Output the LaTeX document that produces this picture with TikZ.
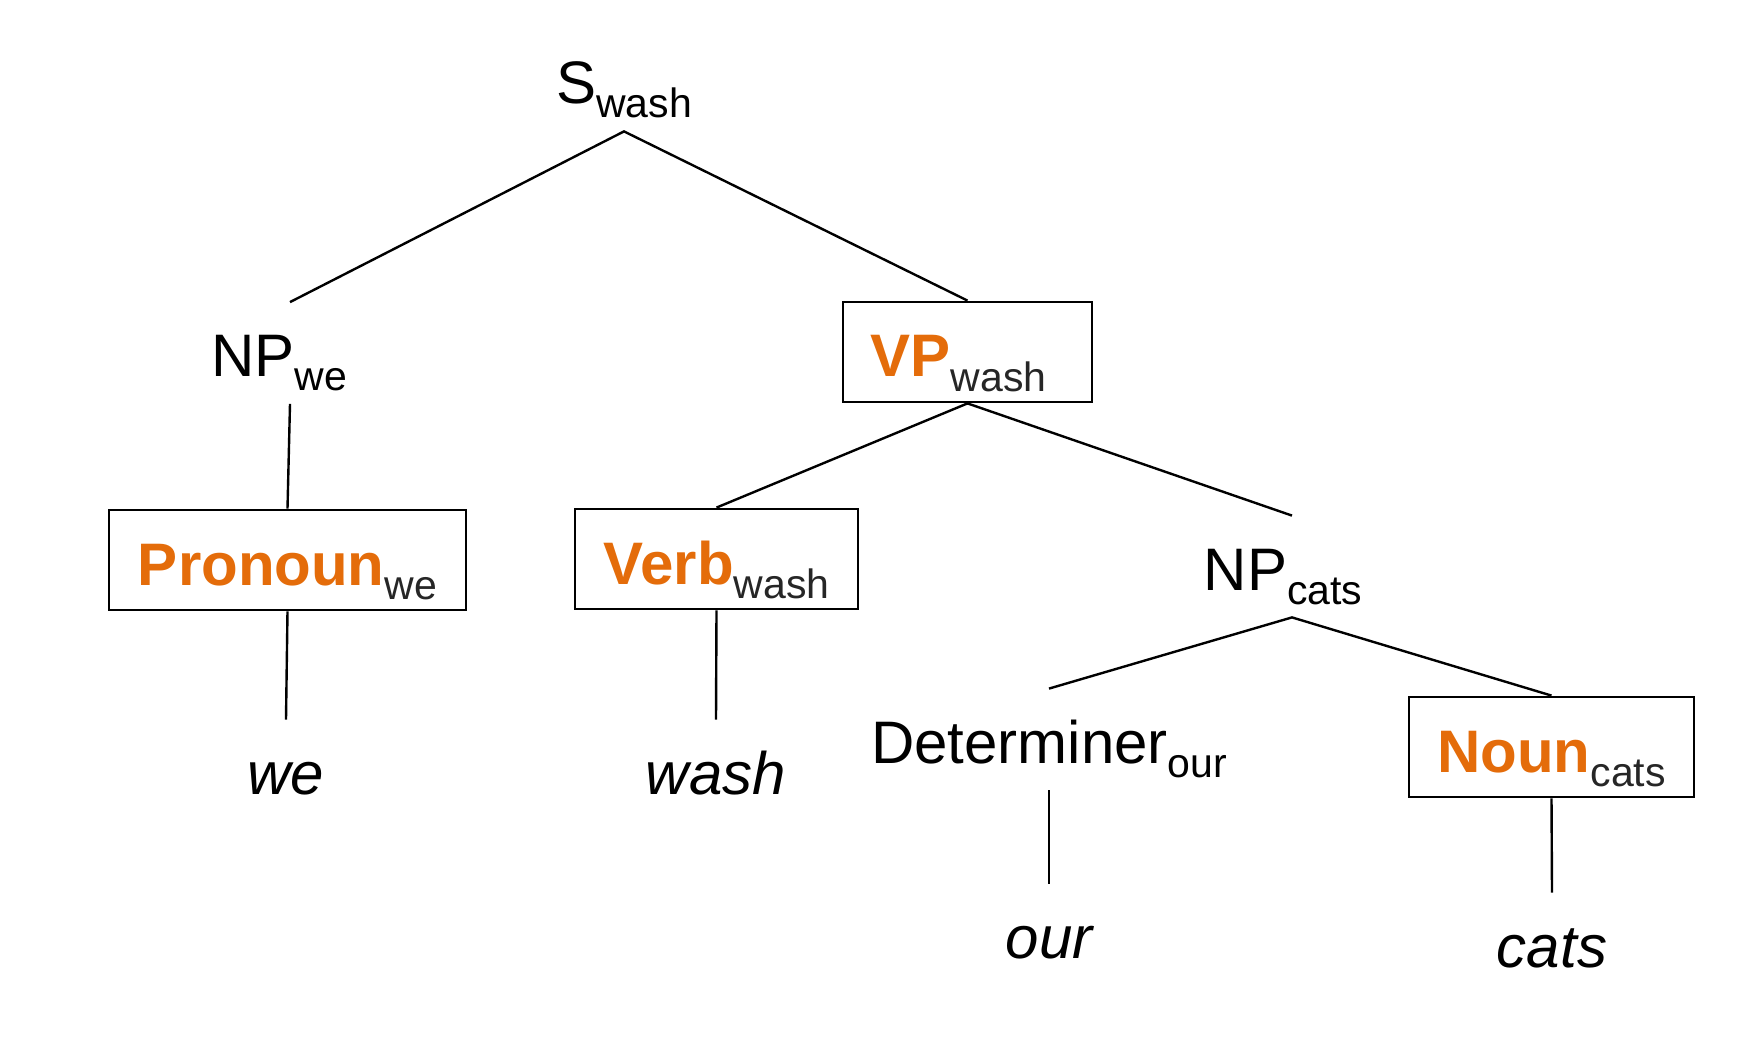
\documentclass[tikz,border=0pt]{standalone}
\usepackage{fontspec}
\setmainfont{Liberation Sans}
\usepackage{xcolor}
\usepackage{tikz}
\definecolor{catorange}{HTML}{E46C0A}
\newcommand{\sbs}[1]{\raisebox{-7pt}{\fontsize{20.5pt}{24pt}\selectfont #1}}
\newcommand{\cat}[2]{\textcolor{catorange}{\textbf{#1}}\textcolor{black!85}{\sbs{#2}}}

\begin{document}
\begin{tikzpicture}[x=0.5pt,y=-0.5pt,
        lbl/.style={inner sep=0pt,anchor=base,text height=37pt,text depth=13.5pt,font=\fontsize{30pt}{36pt}\selectfont},
        leaf/.style={lbl,font=\fontsize{30pt}{36pt}\selectfont\itshape},
        catbox/.style={draw,line width=1.4pt,inner sep=0pt,minimum height=50pt,text height=27pt,text depth=2pt,font=\fontsize{30pt}{36pt}\selectfont},
        branch/.style={line width=1.2pt}]
            \useasboundingbox (0,0) rectangle (1746,1048);
            % labels
            \node[lbl] (s) at (624,104) {S\sbs{wash}};
            \node[lbl] (npwe) at (290,376.5) {NP\sbs{we}\kern11pt\relax};
            \node[catbox,minimum width=124.5pt] (vp) at (967.5,352) {\cat{VP}{wash}\kern9pt\relax};
            \node[catbox,minimum width=178.5pt] (pron) at (287.5,560) {\cat{Pronoun}{we}};
            \node[catbox,minimum width=141.5pt] (verb) at (716.5,559) {\cat{Verb}{wash}};
            \node[lbl] (npcats) at (1292,590) {NP\sbs{cats}\kern9pt\relax};
            \node[lbl] (det) at (1049,763) {Determiner\sbs{our}};
            \node[catbox,minimum width=142.5pt] (noun) at (1551.5,747) {\cat{Noun}{cats}};
            % words
            \node[leaf] (we) at (286,794) {we};
            \node[leaf] (wash) at (716,794) {wash};
            \node[leaf] (our) at (1049,958) {our};
            \node[leaf] (cats) at (1552,967) {cats};
            % branches
            \draw[branch] (npwe.north)--(s.south)--(vp.north);
            \draw[branch] (npwe.south)--(pron.north);
            \draw[branch] (pron.south)--(we.north);
            \draw[branch] (verb.north)--(vp.south)--(npcats.north);
            \draw[branch] (verb.south)--(wash.north);
            \draw[branch] (det.north)--(npcats.south)--(noun.north);
            \draw[branch] (det.south)--(our.north);
            \draw[branch] (noun.south)--(cats.north);
        \end{tikzpicture}
\end{document}
